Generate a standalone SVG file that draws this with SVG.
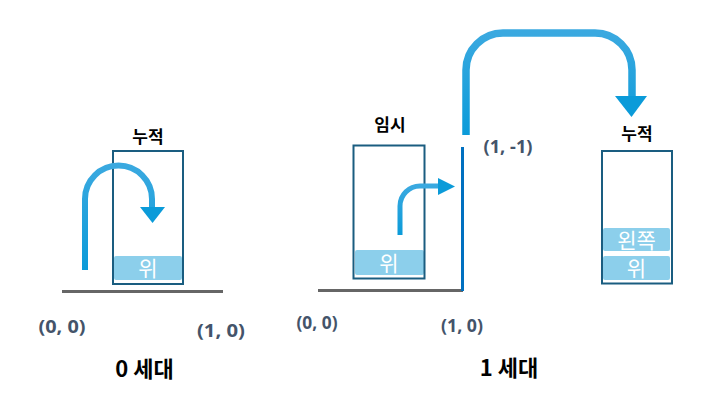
<svg xmlns="http://www.w3.org/2000/svg" width="703" height="402" viewBox="0 0 703 402">
<defs>
<linearGradient id="ag" x1="0" y1="0" x2="0" y2="1">
<stop offset="0" stop-color="#3aa9e0"/>
<stop offset="1" stop-color="#0b9bd9"/>
</linearGradient>
<style>
.box{fill:none;stroke:#1a5d80;stroke-width:2}
.bar{fill:#8ccfeb}
.bt{font-family:"Noto Sans CJK KR","Noto Sans",sans-serif;fill:#fff;font-size:21px;text-anchor:middle;dominant-baseline:central}
.lbl{font-family:"Noto Sans CJK KR","Noto Sans",sans-serif;font-weight:bold;fill:#000;font-size:17px;text-anchor:middle;dominant-baseline:central}
.gen{font-family:"Noto Sans CJK KR","Noto Sans",sans-serif;font-weight:bold;fill:#000;font-size:22px;text-anchor:middle;dominant-baseline:central}
.co{font-family:"Noto Sans","Noto Sans CJK KR",sans-serif;font-weight:bold;fill:#44546a;font-size:18px;text-anchor:middle;dominant-baseline:central}
.gnd{stroke:#666;stroke-width:3;fill:none}
.arr{fill:none;stroke:url(#ag)}
.ah{fill:#0b9bd9}
</style>
</defs>
<g id="ground0"><line class="gnd" x1="62" y1="291.5" x2="223" y2="291.5"/></g>
<g id="ground1"><line class="gnd" x1="318" y1="290.5" x2="463" y2="290.5"/></g>
<g id="wall"><line x1="462.5" y1="147" x2="462.5" y2="291" stroke="#0070c0" stroke-width="3"/></g>

<g id="stack0">
<text class="lbl" x="148" y="135">누적</text>
<rect class="bar" x="114" y="256" width="68" height="24" rx="2"/>
<text class="bt" x="148" y="267">위</text>
<rect class="box" x="113" y="151" width="70" height="133"/>
</g>

<g id="temp1">
<text class="lbl" x="390" y="123">임시</text>
<rect class="bar" x="355" y="250" width="69" height="25" rx="2"/>
<text class="bt" x="389" y="261.5">위</text>
<rect class="box" x="353.5" y="145.5" width="71" height="133"/>
</g>

<g id="stack1">
<text class="lbl" x="637" y="132">누적</text>
<rect class="bar" x="603" y="228" width="67" height="23" rx="2"/>
<text class="bt" x="636.5" y="239" font-size="22">왼쪽</text>
<rect class="bar" x="603" y="256" width="67" height="24" rx="2"/>
<text class="bt" x="636.5" y="267">위</text>
<rect class="box" x="602" y="151" width="70" height="132.5"/>
</g>

<g id="connectors">
<path class="arr" stroke-width="6" d="M85,270 V199 A33.5,33.5 0 0 1 152,199 V208"/>
<polygon class="ah" points="140,207 165,207 152.5,223"/>
<path class="arr" stroke-width="5" d="M400,235 V206 A20,20 0 0 1 420,186 H439"/>
<polygon class="ah" points="438,178 438,195 455,186.5"/>
<path class="arr" stroke-width="7.5" d="M466,135 V70 A37,37 0 0 1 503,33 H595 A37,37 0 0 1 632,70 V97"/>
<polygon class="ah" points="615,96 647,96 631.5,117"/>
</g>

<g id="labels">
<text class="co" x="62" y="326" textLength="47" lengthAdjust="spacingAndGlyphs">(0, 0)</text>
<text class="co" x="221" y="330" textLength="48" lengthAdjust="spacingAndGlyphs">(1, 0)</text>
<text class="co" x="317" y="322" font-size="16" textLength="41" lengthAdjust="spacingAndGlyphs">(0, 0)</text>
<text class="co" x="462" y="325" font-size="16" textLength="42" lengthAdjust="spacingAndGlyphs">(1, 0)</text>
<text class="co" x="508" y="146" textLength="49" lengthAdjust="spacingAndGlyphs">(1, -1)</text>
<text class="gen" x="144.5" y="367">0 세대</text>
<text class="gen" x="509" y="366">1 세대</text>
</g>
</svg>
